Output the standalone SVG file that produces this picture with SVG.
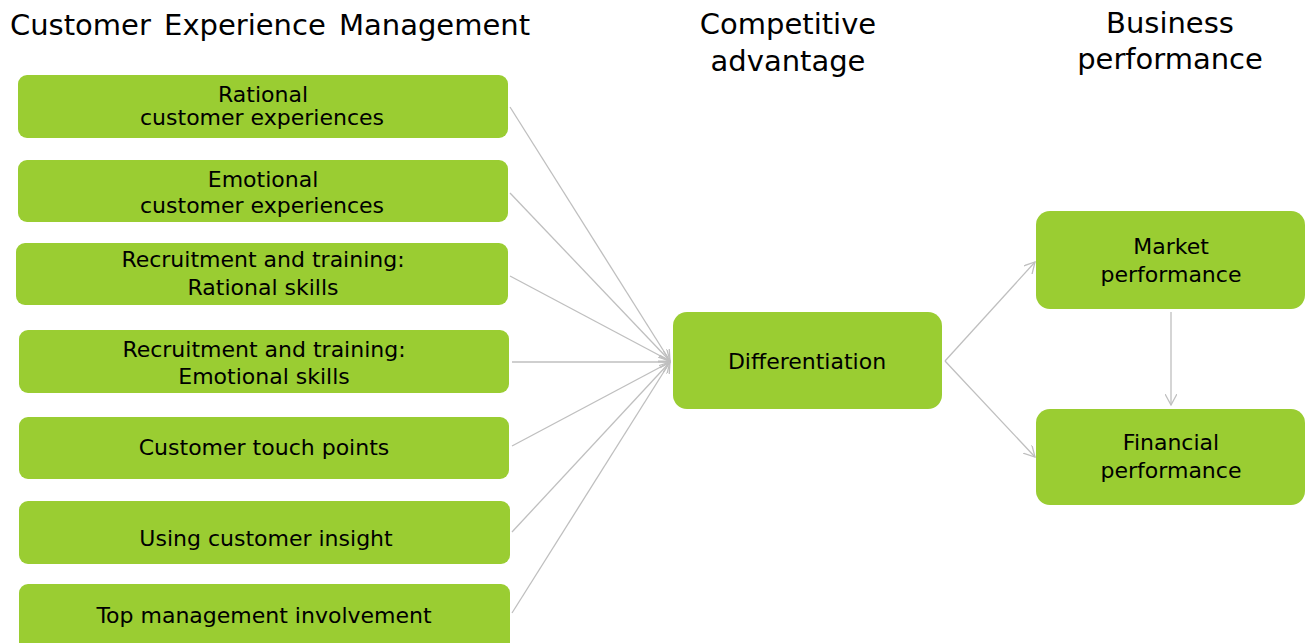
<svg xmlns="http://www.w3.org/2000/svg" width="1305" height="643" viewBox="0 0 1305 643">
<style>
.box{fill:#9ACD32;}
.t{font-family:"DejaVu Sans","Verdana",sans-serif;font-size:22px;fill:#000;text-anchor:middle;}
.h{font-family:"DejaVu Sans","Verdana",sans-serif;font-size:29px;fill:#000;text-anchor:middle;}
.c{stroke:#BFBFBF;stroke-width:1.3;fill:none;marker-end:url(#arr);}
</style>
<defs>
<marker id="arr" viewBox="0 0 12 12" refX="11" refY="6" markerWidth="12" markerHeight="12" markerUnits="userSpaceOnUse" orient="auto">
<path d="M0,0 L11,6 L0,12" fill="none" stroke="#BFBFBF" stroke-width="1.3"/>
</marker>
</defs>
<rect width="1305" height="643" fill="#fff"/>
<g id="headers">
<text class="h" x="270" y="35" word-spacing="4">Customer Experience Management</text>
<text class="h" x="788" y="34">Competitive</text>
<text class="h" x="788" y="71">advantage</text>
<text class="h" x="1170" y="33">Business</text>
<text class="h" x="1170" y="69">performance</text>
</g>
<g id="connectors">
<line class="c" x1="510" y1="107" x2="670" y2="361"/>
<line class="c" x1="510" y1="193" x2="670" y2="361"/>
<line class="c" x1="510" y1="276" x2="670" y2="361"/>
<line class="c" x1="512" y1="362" x2="670" y2="362"/>
<line class="c" x1="512" y1="446" x2="670" y2="362"/>
<line class="c" x1="512" y1="532" x2="670" y2="362"/>
<line class="c" x1="512" y1="613" x2="670" y2="362"/>
<line class="c" x1="945" y1="361" x2="1035" y2="262"/>
<line class="c" x1="945" y1="361" x2="1035" y2="457"/>
<line class="c" x1="1171" y1="312" x2="1171" y2="405"/>
</g>
<g id="n1"><rect class="box" x="18" y="75" width="490" height="63" rx="9"/>
<text class="t" x="263" y="102">Rational</text><text class="t" x="262" y="125">customer experiences</text></g>
<g id="n2"><rect class="box" x="18" y="160" width="490" height="62" rx="9"/>
<text class="t" x="263" y="187">Emotional</text><text class="t" x="262" y="213">customer experiences</text></g>
<g id="n3"><rect class="box" x="16" y="243" width="492" height="62" rx="9"/>
<text class="t" x="263" y="267">Recruitment and training:</text><text class="t" x="263" y="295">Rational skills</text></g>
<g id="n4"><rect class="box" x="19" y="330" width="490" height="63" rx="9"/>
<text class="t" x="264" y="357">Recruitment and training:</text><text class="t" x="264" y="384">Emotional skills</text></g>
<g id="n5"><rect class="box" x="19" y="417" width="490" height="62" rx="9"/>
<text class="t" x="264" y="455">Customer touch points</text></g>
<g id="n6"><rect class="box" x="19" y="501" width="491" height="63" rx="9"/>
<text class="t" x="266" y="546">Using customer insight</text></g>
<g id="n7"><rect class="box" x="19" y="584" width="491" height="70" rx="9"/>
<text class="t" x="264" y="623">Top management involvement</text></g>
<g id="n8"><rect class="box" x="673" y="312" width="269" height="97" rx="14"/>
<text class="t" x="807" y="369">Differentiation</text></g>
<g id="n9"><rect class="box" x="1036" y="211" width="269" height="98" rx="14"/>
<text class="t" x="1171" y="254">Market</text><text class="t" x="1171" y="282">performance</text></g>
<g id="n10"><rect class="box" x="1036" y="409" width="269" height="96" rx="14"/>
<text class="t" x="1171" y="450">Financial</text><text class="t" x="1171" y="478">performance</text></g>
</svg>
